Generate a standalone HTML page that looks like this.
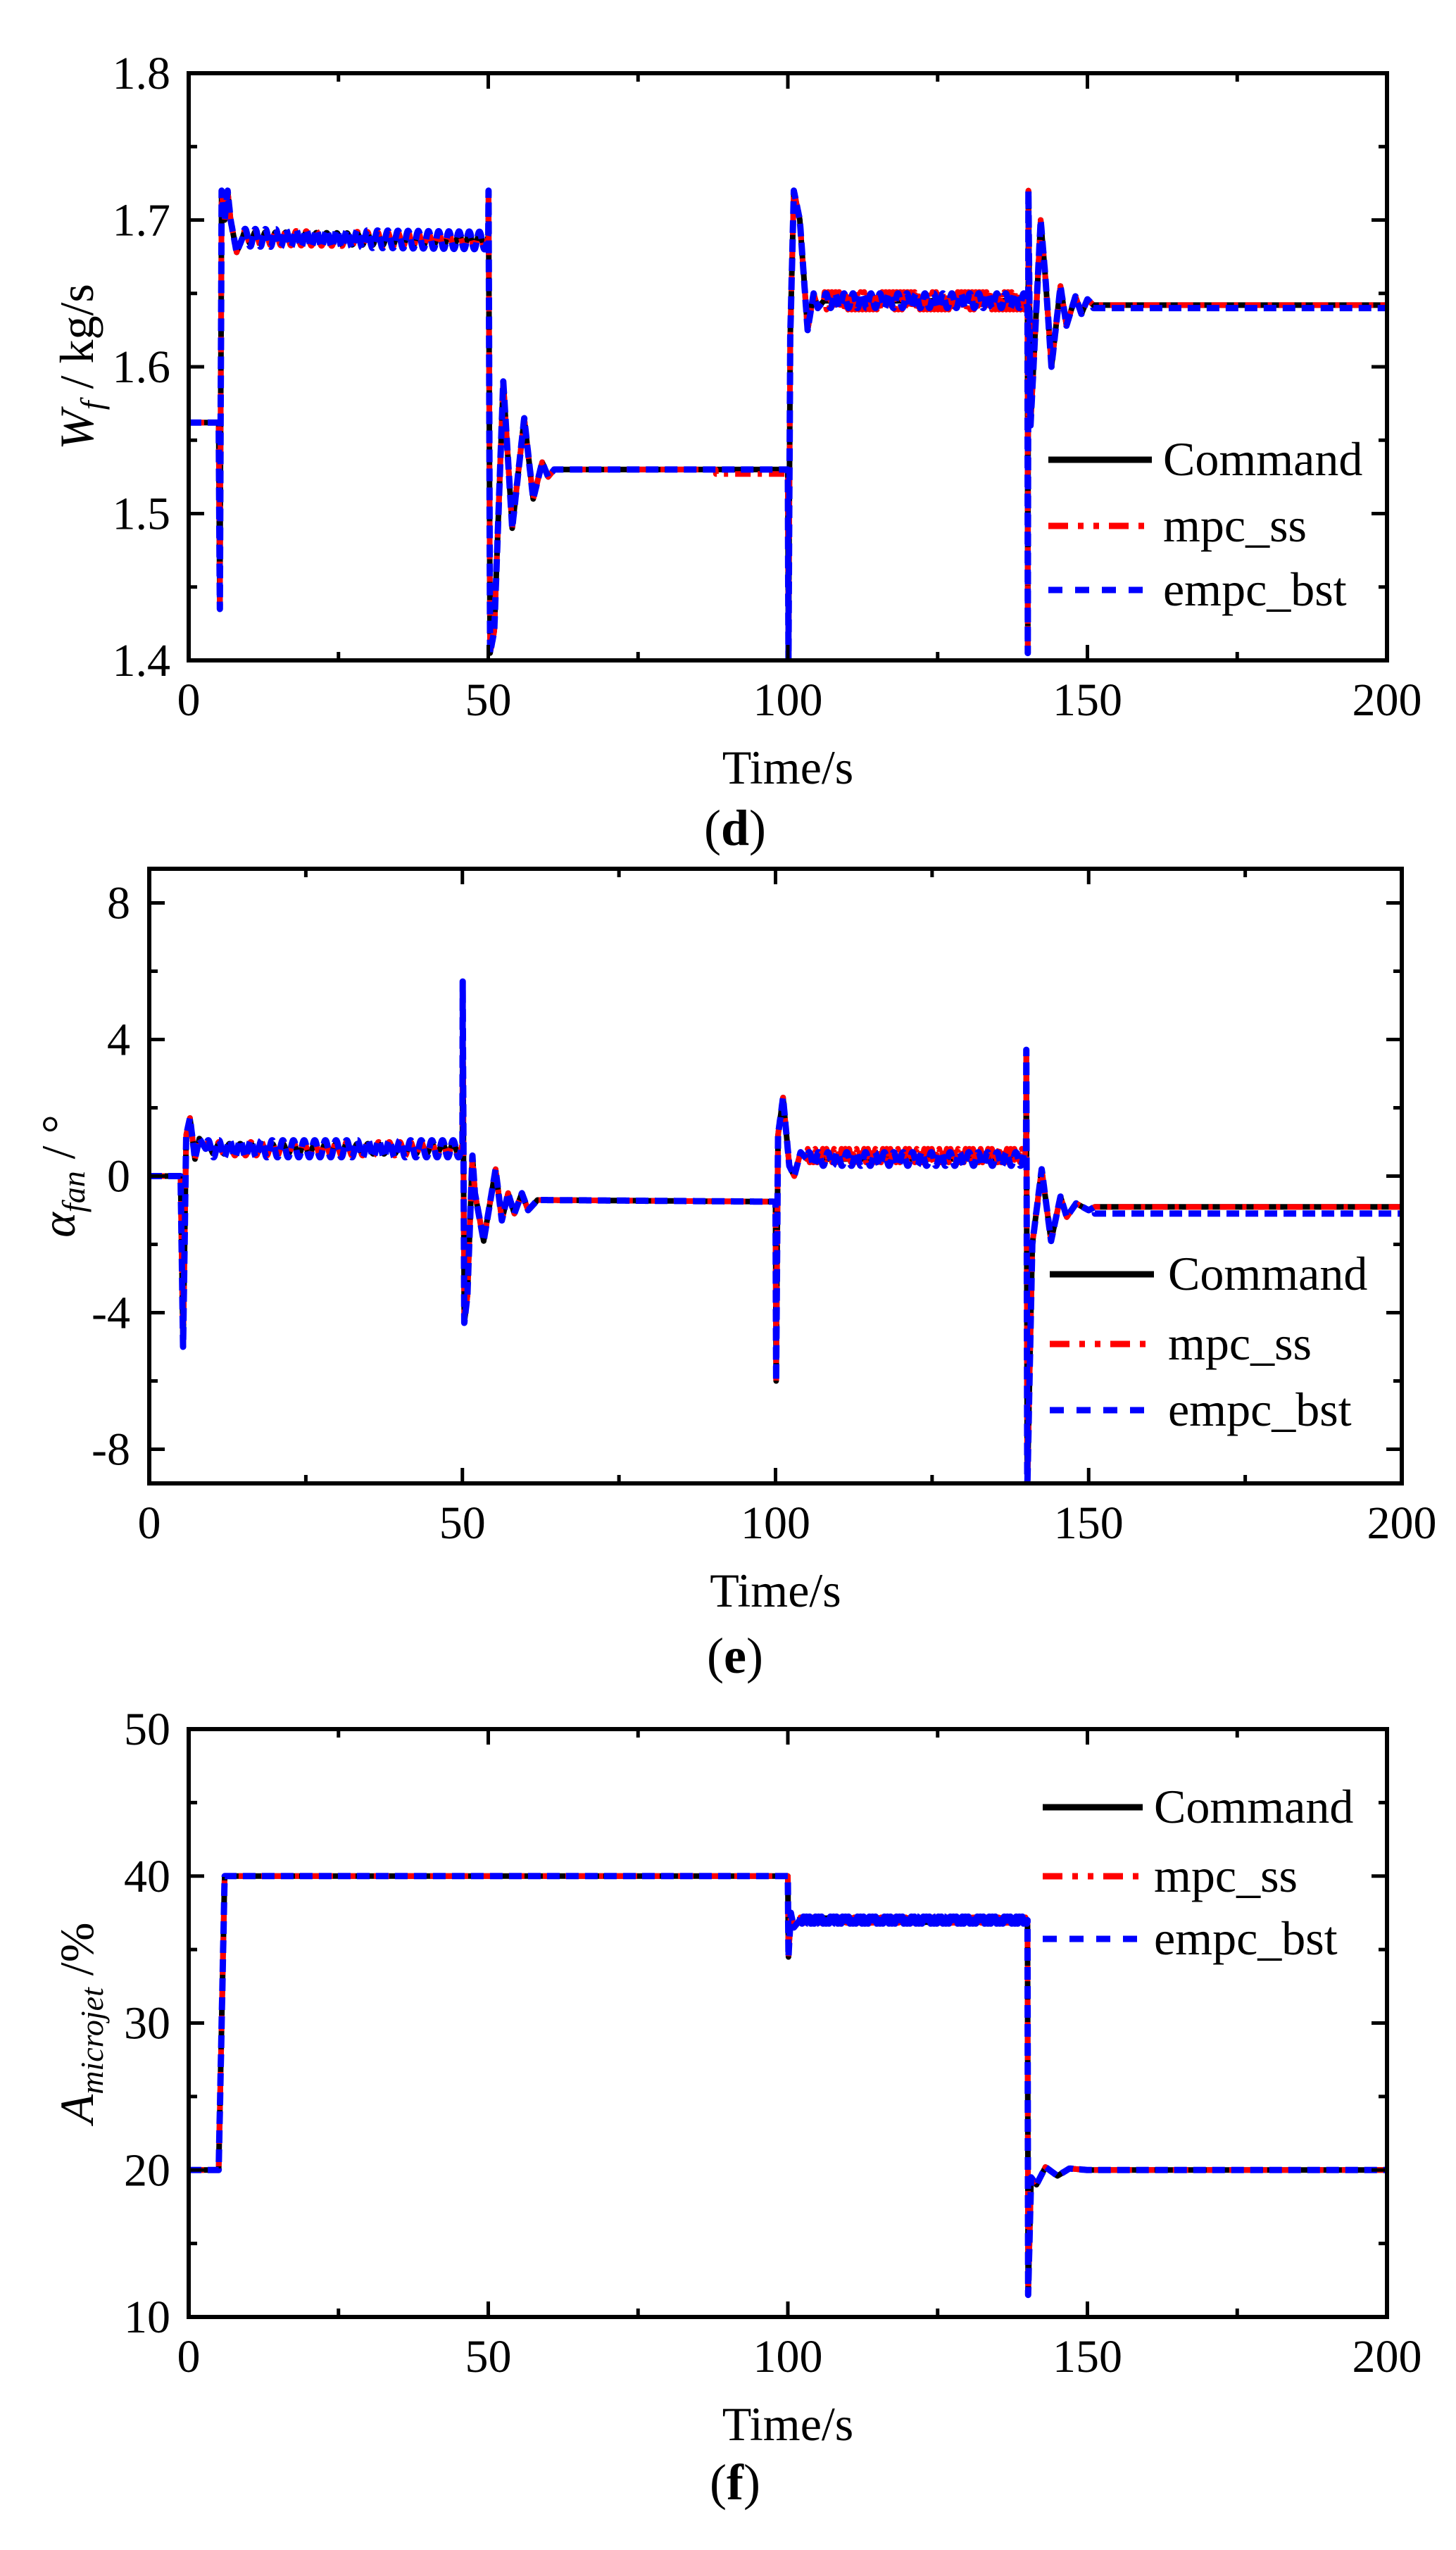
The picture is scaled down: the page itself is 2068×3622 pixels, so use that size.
<!DOCTYPE html>
<html><head><meta charset="utf-8"><style>
html,body{margin:0;padding:0;background:#fff;}
svg{display:block;}
text{font-family:"Liberation Serif",serif;fill:#000;}
</style></head><body>
<svg id="s" width="2068" height="3622" viewBox="0 0 2068 3622" xmlns="http://www.w3.org/2000/svg">
<rect width="2068" height="3622" fill="#fff"/>
</svg>
<script>
const S=document.getElementById('s');const NS='http://www.w3.org/2000/svg';
function el(t,a,txt){const e=document.createElementNS(NS,t);for(const k in a)e.setAttribute(k,a[k]);if(txt!==undefined)e.textContent=txt;S.appendChild(e);return e;}
function interp(p,t){if(t<=p[0][0])return p[0][1];for(let i=1;i<p.length;i++){if(t<=p[i][0]){const a=p[i-1],b=p[i];if(b[0]==a[0])return b[1];return a[1]+(b[1]-a[1])*(t-a[0])/(b[0]-a[0]);}}return p[p.length-1][1];}
function gen(pts,osc,off){const ts=new Set();for(let t=0;t<=200.0001;t+=0.05)ts.add(+t.toFixed(3));pts.forEach(p=>ts.add(p[0]));const arr=[...ts].sort((a,b)=>a-b);
 return arr.map(t=>{let y=interp(pts,t);(osc||[]).forEach(o=>{if(t>=o[0]&&t<=o[1])y+=o[2]*Math.sin(2*Math.PI*(t-o[0])/o[3]);});(off||[]).forEach(o=>{if(t>=o[0]&&t<=o[1])y+=o[2];});return [t,y];});}
function plot(c){
 const {x0,x1,y0,y1,ymin,ymax}=c;
 const X=t=>x0+(x1-x0)*t/200, Y=v=>y1-(y1-y0)*(v-ymin)/(ymax-ymin);
 const cp='cp'+c.id;
 const d=el('defs',{});const clip=document.createElementNS(NS,'clipPath');clip.setAttribute('id',cp);const r=document.createElementNS(NS,'rect');r.setAttribute('x',x0);r.setAttribute('y',y0-2);r.setAttribute('width',x1-x0);r.setAttribute('height',y1-y0+4);clip.appendChild(r);d.appendChild(clip);
 const styles=[['#000',8,'none'],['#f00',8,'22,10,6,10'],['#00f',9,'18,9']];
 c.series.forEach((sd,i)=>{const pts=gen(sd.pts,sd.osc,sd.off);const dstr='M'+pts.map(p=>X(p[0]).toFixed(1)+','+Y(p[1]).toFixed(1)).join('L');
  el('path',{d:dstr,fill:'none',stroke:styles[i][0],'stroke-width':styles[i][1],'stroke-dasharray':styles[i][2],'stroke-linejoin':'round','clip-path':'url(#'+cp+')'});});
 el('rect',{x:x0,y:y0,width:x1-x0,height:y1-y0,fill:'none',stroke:'#000','stroke-width':6});
 for(let t=0;t<=200;t+=25){const maj=t%50==0,L=maj?22:12,x=X(t);
  el('line',{x1:x,y1:y1,x2:x,y2:y1-L,stroke:'#000','stroke-width':5});el('line',{x1:x,y1:y0,x2:x,y2:y0+L,stroke:'#000','stroke-width':5});
  if(maj)el('text',{x:x,y:y1+78,'font-size':66,'text-anchor':'middle'},String(t));}
 c.yt.forEach(v=>{const y=Y(v[0]),L=v[1]?22:12;
  el('line',{x1:x0,y1:y,x2:x0+L,y2:y,stroke:'#000','stroke-width':5});el('line',{x1:x1,y1:y,x2:x1-L,y2:y,stroke:'#000','stroke-width':5});
  if(v[1])el('text',{x:c.lx,y:y+22,'font-size':66,'text-anchor':'end'},v[1]);});
 el('text',{x:(x0+x1)/2,y:y1+175,'font-size':68,'text-anchor':'middle'},'Time/s');
 const cap=el('text',{x:1044,y:c.capy,'font-size':72,'text-anchor':'middle'});cap.innerHTML='(<tspan font-weight="bold">'+c.id+'</tspan>)';
 const yl=el('text',{transform:'translate('+c.ylx+','+((y0+y1)/2)+') rotate(-90)','font-size':68,'text-anchor':'middle'});yl.innerHTML=c.ylab;
 const L=c.leg;const names=['Command','mpc_ss','empc_bst'];
 L.ys.forEach((y,i)=>{el('line',{x1:L.x0,y1:y,x2:L.x1,y2:y,stroke:styles[i][0],'stroke-width':9,'stroke-dasharray':i==0?'none':(i==1?'28,14,8,14,8,14':'20,18')});
  el('text',{x:L.tx,y:y+22,'font-size':68},names[i]);});
}
const dBase=[[0,1.562],[5,1.562],[5.2,1.435],[5.5,1.72],[6,1.70],[6.5,1.72],[7,1.70],[8,1.678],[9,1.688],[50,1.686],[50.05,1.72],[50.3,1.405],[51,1.42],[52.5,1.59],[54,1.49],[56,1.565],[57.5,1.51],[59,1.535],[60,1.525],[61,1.53],[100,1.53],[100.1,1.40],[100.4,1.62],[101,1.72],[102,1.70],[103.3,1.625],[104.3,1.65],[105,1.64],[106,1.645],[140,1.645],[140.05,1.405],[140.15,1.72],[140.5,1.56],[141,1.60],[142.2,1.70],[143,1.66],[144,1.60],[145.5,1.655],[146.5,1.628],[148,1.648],[149,1.636],[150,1.646],[151,1.642],[200,1.642]];
plot({id:'d',x0:268,x1:1970,y0:104,y1:938,ymin:1.4,ymax:1.8,lx:242,capy:1200,ylx:132,
 yt:[[1.4,'1.4'],[1.45],[1.5,'1.5'],[1.55],[1.6,'1.6'],[1.65],[1.7,'1.7'],[1.75],[1.8,'1.8']],
 ylab:'<tspan font-style="italic">W</tspan><tspan font-style="italic" font-size="46" dy="14">f</tspan><tspan dy="-14"> / kg/s</tspan>',
 leg:{x0:1489,x1:1636,tx:1652,ys:[653,747,838]},
 series:[{pts:dBase,osc:[[9,50,0.004,1.7]]},
  {pts:dBase,osc:[[9,50,0.005,1.7],[106,140,0.006,0.6]],off:[[88,100,-0.003]]},
  {pts:dBase,osc:[[9,50,0.006,1.7],[106,140,0.005,1.5]],off:[[151,200,-0.002]]}]});
const eBase=[[0,0],[5,0],[5.4,-5],[5.9,1.2],[6.5,1.7],[7.3,0.5],[8,1.1],[9,0.8],[50,0.8],[50.05,5.7],[50.3,-4.3],[50.8,-3.5],[51.6,0.6],[52,-0.5],[53.4,-1.9],[55.3,0.2],[56.3,-1.3],[57.3,-0.5],[58.3,-1.1],[59.5,-0.5],[60.5,-1],[62,-0.7],[100,-0.75],[100.1,-6],[100.4,1.2],[101.2,2.3],[102.2,0.3],[103,0],[104,0.7],[105,0.5],[140,0.5],[140.05,3.7],[140.2,-9.2],[141,-2],[142.5,0.2],[144,-1.9],[145.5,-0.6],[146.5,-1.2],[148,-0.8],[150,-1],[151,-0.9],[200,-0.9]];
plot({id:'e',x0:212,x1:1991,y0:1234,y1:2107,ymin:-9,ymax:9,lx:185,capy:2376,ylx:106,
 yt:[[-8,'-8'],[-6],[-4,'-4'],[-2],[0,'0'],[2],[4,'4'],[6],[8,'8']],
 ylab:'<tspan font-style="italic">α</tspan><tspan font-style="italic" font-size="46" dy="14">fan</tspan><tspan dy="-14"> / °</tspan>',
 leg:{x0:1491,x1:1639,tx:1659,ys:[1810,1909,2003]},
 series:[{pts:eBase,osc:[[9,50,0.15,1.7]]},
  {pts:eBase,osc:[[9,50,0.2,1.7],[105,140,0.2,0.6]],off:[[105,140,0.1]]},
  {pts:eBase,osc:[[9,50,0.25,1.7],[105,140,0.2,1.5]],off:[[151,200,-0.2]]}]});
const fBase=[[0,20],[5,20],[6,40],[100,40],[100.1,34.5],[100.5,37.5],[101,36.5],[102,37],[140,37],[140.1,11.5],[140.6,19.5],[141.5,19],[143,20.2],[145,19.6],[147,20.1],[150,20],[200,20]];
plot({id:'f',x0:268,x1:1970,y0:2456,y1:3291,ymin:10,ymax:50,lx:242,capy:3550,ylx:132,
 yt:[[10,'10'],[15],[20,'20'],[25],[30,'30'],[35],[40,'40'],[45],[50,'50']],
 ylab:'<tspan font-style="italic">A</tspan><tspan font-style="italic" font-size="46" dy="14">microjet</tspan><tspan dy="-14"> /%</tspan>',
 leg:{x0:1481,x1:1623,tx:1639,ys:[2567,2665,2754]},
 series:[{pts:fBase,osc:[[102,140,0.15,0.5]]},{pts:fBase,osc:[[102,140,0.2,0.5]]},{pts:fBase,osc:[[102,140,0.25,0.5]]}]});
</script>
</body></html>
